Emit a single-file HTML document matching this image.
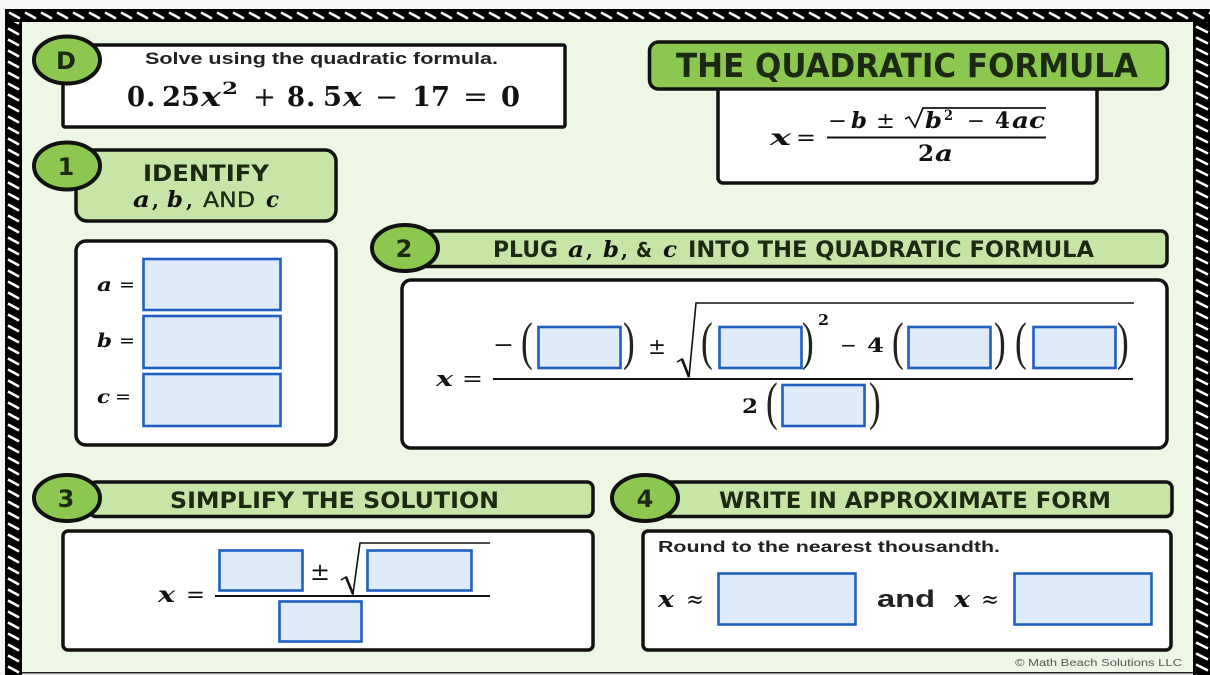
<!DOCTYPE html>
<html><head><meta charset="utf-8">
<style>
html,body{margin:0;padding:0;background:#f6f6f6;width:1210px;height:675px;overflow:hidden}
svg{display:block}
text{white-space:pre}
.s{font-family:"Liberation Sans",sans-serif;font-weight:bold;fill:#222}
.h{font-family:"DejaVu Sans","Liberation Sans",sans-serif;font-weight:bold;fill:#1c2a14}
.m{font-family:"DejaVu Serif","Liberation Serif",serif;font-weight:bold;fill:#111}
.i{font-style:italic}
.o{font-family:"DejaVu Serif","Liberation Serif",serif;font-weight:normal;fill:#111}
.p{font-family:"Liberation Serif",serif;fill:#222}
.box{fill:#fff;stroke:#111;stroke-width:3.5}
.hd{fill:#c6e5a6;stroke:#111;stroke-width:3.5}
.ci{fill:#8cc850;stroke:#111;stroke-width:4}
.in{fill:#dfeafa;stroke:#1f5fc0;stroke-width:2.6}
.ln{stroke:#111;stroke-width:2;fill:none}
</style></head><body>
<svg width="1210" height="675" viewBox="0 0 1210 675" xmlns="http://www.w3.org/2000/svg">
<defs>
<pattern id="pt" width="16" height="13" patternUnits="userSpaceOnUse" x="8" y="9">
<rect width="16" height="13" fill="#000"/>
<path d="M1 3.5L12 9.5" stroke="#fff" stroke-width="2.6"/>
</pattern>
<pattern id="pl" width="17" height="11" patternUnits="userSpaceOnUse" x="5" y="4">
<rect width="17" height="11" fill="#000"/>
<path d="M3 2.5L14 8.5" stroke="#fff" stroke-width="2.6"/>
</pattern>
<pattern id="pr" width="17" height="11" patternUnits="userSpaceOnUse" x="1193" y="2">
<rect width="17" height="11" fill="#000"/>
<path d="M3 2.5L15 8.5" stroke="#fff" stroke-width="2.6"/>
</pattern>
</defs>
<rect x="0" y="673" width="1210" height="2" fill="#f0f0f0"/>
<rect x="5" y="9" width="1205" height="13" fill="url(#pt)"/>
<rect x="5" y="22" width="17" height="653" fill="url(#pl)"/>
<rect x="1193" y="22" width="17" height="653" fill="url(#pr)"/>
<rect x="22" y="22" width="1171" height="650" fill="#eef6e6"/>
<rect x="22" y="672" width="1171" height="1.5" fill="#222"/>

<!-- D -->
<rect class="box" x="63" y="45" width="502" height="82" rx="2"/>
<ellipse class="ci" cx="67" cy="60" rx="33" ry="23.5"/>
<text class="h" x="66" y="69" font-size="24" text-anchor="middle">D</text>
<text class="s" x="145" y="64" font-size="16.5" textLength="353" lengthAdjust="spacingAndGlyphs">Solve using the quadratic formula.</text>
<g font-size="27">
<text class="m" x="127" y="106" textLength="18" lengthAdjust="spacingAndGlyphs">0</text>
<text class="m" x="146" y="106">.</text>
<text class="m" x="162" y="106" textLength="38" lengthAdjust="spacingAndGlyphs">25</text>
<text class="m i" x="201" y="106" textLength="20" lengthAdjust="spacingAndGlyphs">x</text>
<text class="m" x="222" y="94" font-size="17" textLength="16" lengthAdjust="spacingAndGlyphs">2</text>
<text class="o" x="253" y="106" textLength="23" lengthAdjust="spacingAndGlyphs">+</text>
<text class="m" x="287" y="106" textLength="18" lengthAdjust="spacingAndGlyphs">8</text>
<text class="m" x="306" y="106">.</text>
<text class="m" x="323" y="106" textLength="19" lengthAdjust="spacingAndGlyphs">5</text>
<text class="m i" x="343" y="106" textLength="19" lengthAdjust="spacingAndGlyphs">x</text>
<text class="o" x="375" y="106" textLength="23" lengthAdjust="spacingAndGlyphs">−</text>
<text class="m" x="412" y="106" textLength="38" lengthAdjust="spacingAndGlyphs">17</text>
<text class="o" x="463" y="106" textLength="25" lengthAdjust="spacingAndGlyphs">=</text>
<text class="m" x="501" y="106" textLength="19" lengthAdjust="spacingAndGlyphs">0</text>
</g>

<!-- Title -->
<rect class="box" x="718" y="85" width="379" height="98" rx="5"/>
<rect x="649.5" y="42" width="518" height="47" rx="9" fill="#8cc850" stroke="#111" stroke-width="3.5"/>
<text class="h" x="676" y="77" font-size="33" textLength="462" lengthAdjust="spacingAndGlyphs" fill="#111">THE QUADRATIC FORMULA</text>
<g font-size="22">
<text class="m i" x="770" y="145" textLength="21" lengthAdjust="spacingAndGlyphs">x</text>
<text class="o" x="796" y="145" textLength="20" lengthAdjust="spacingAndGlyphs">=</text>
<line class="ln" x1="827" y1="137.5" x2="1046" y2="137.5"/>
<text class="o" x="828" y="128" textLength="19" lengthAdjust="spacingAndGlyphs">−</text>
<text class="m i" x="851" y="128" textLength="16" lengthAdjust="spacingAndGlyphs">b</text>
<text class="o" x="876" y="128" textLength="19" lengthAdjust="spacingAndGlyphs">±</text>
<path class="ln" d="M905 119L909 117L915 127L923 108H1046" style="stroke-width:1.7"/>
<text class="m i" x="925" y="128" textLength="17" lengthAdjust="spacingAndGlyphs">b</text>
<text class="m" x="944" y="120" font-size="14" textLength="9" lengthAdjust="spacingAndGlyphs">2</text>
<text class="o" x="967" y="128" textLength="18" lengthAdjust="spacingAndGlyphs">−</text>
<text class="m" x="995" y="128" textLength="15" lengthAdjust="spacingAndGlyphs">4</text>
<text class="m i" x="1012" y="128" textLength="33" lengthAdjust="spacingAndGlyphs">ac</text>
<text class="m" x="918" y="161" textLength="16" lengthAdjust="spacingAndGlyphs">2</text>
<text class="m i" x="935" y="161" textLength="18" lengthAdjust="spacingAndGlyphs">a</text>
</g>

<!-- 1 -->
<rect class="hd" x="76" y="150" width="260" height="71" rx="11"/>
<ellipse class="ci" cx="67" cy="166" rx="33" ry="23.5"/>
<text class="h" x="66" y="175" font-size="24" text-anchor="middle">1</text>
<text class="h" x="143" y="181" font-size="22" textLength="126" lengthAdjust="spacingAndGlyphs">IDENTIFY</text>
<text class="m i" x="133" y="207" font-size="22" textLength="17" lengthAdjust="spacingAndGlyphs">a</text>
<text class="m" x="152" y="207" font-size="20">,</text>
<text class="m i" x="167" y="207" font-size="22" textLength="16" lengthAdjust="spacingAndGlyphs">b</text>
<text class="m" x="186" y="207" font-size="20">,</text>
<text class="h" x="203" y="207" font-size="21" textLength="52" lengthAdjust="spacingAndGlyphs" style="font-weight:normal" stroke="#1c2a14" stroke-width=".3">AND</text>
<text class="m i" x="266" y="207" font-size="22" textLength="13" lengthAdjust="spacingAndGlyphs">c</text>

<!-- abc -->
<rect class="box" x="76" y="241" width="260" height="204" rx="10"/>
<rect class="in" x="143.5" y="259" width="137" height="51"/>
<rect class="in" x="143.5" y="316" width="137" height="52"/>
<rect class="in" x="143.5" y="374" width="137" height="52"/>
<g font-size="19">
<text class="m i" x="97" y="291" textLength="15" lengthAdjust="spacingAndGlyphs">a</text><text class="o" x="119" y="291" textLength="16" lengthAdjust="spacingAndGlyphs">=</text>
<text class="m i" x="97" y="347" textLength="15" lengthAdjust="spacingAndGlyphs">b</text><text class="o" x="119" y="347" textLength="16" lengthAdjust="spacingAndGlyphs">=</text>
<text class="m i" x="97" y="403" textLength="13" lengthAdjust="spacingAndGlyphs">c</text><text class="o" x="115" y="403" textLength="16" lengthAdjust="spacingAndGlyphs">=</text>
</g>

<!-- 2 -->
<rect class="hd" x="420" y="231" width="747" height="35.5" rx="6"/>
<ellipse class="ci" cx="405" cy="248" rx="33" ry="23"/>
<text class="h" x="404" y="257" font-size="24" text-anchor="middle">2</text>
<text class="h" x="493" y="257" font-size="22" textLength="65" lengthAdjust="spacingAndGlyphs">PLUG</text>
<text class="m i" x="568" y="257" font-size="22" textLength="16" lengthAdjust="spacingAndGlyphs">a</text>
<text class="m" x="586" y="257" font-size="20">,</text>
<text class="m i" x="603" y="257" font-size="22" textLength="16" lengthAdjust="spacingAndGlyphs">b</text>
<text class="m" x="621" y="257" font-size="20">,</text>
<text class="h" x="636" y="257" font-size="20" textLength="16" lengthAdjust="spacingAndGlyphs">&amp;</text>
<text class="m i" x="663" y="257" font-size="22" textLength="14" lengthAdjust="spacingAndGlyphs">c</text>
<text class="h" x="688" y="257" font-size="22" textLength="406" lengthAdjust="spacingAndGlyphs">INTO THE QUADRATIC FORMULA</text>
<rect class="box" x="402" y="280" width="765" height="168" rx="9"/>
<text class="m i" x="436" y="386" font-size="21" textLength="17" lengthAdjust="spacingAndGlyphs">x</text>
<text class="o" x="462" y="386" font-size="21" textLength="21" lengthAdjust="spacingAndGlyphs">=</text>
<line class="ln" x1="493" y1="379" x2="1133" y2="379"/>
<path class="ln" d="M677 362L682 359L689 377L696 303H1134" style="stroke-width:1.6"/>
<path class="ln" d="M682 359L689 377" style="stroke-width:2.6"/>
<rect class="in" x="538.5" y="327" width="82" height="41"/>
<rect class="in" x="719.5" y="327" width="82" height="41"/>
<rect class="in" x="908.5" y="327" width="82" height="41"/>
<rect class="in" x="1033.5" y="327" width="82" height="41"/>
<rect class="in" x="782.5" y="385" width="82" height="41"/>
<text class="o" x="493" y="352" font-size="22" textLength="21" lengthAdjust="spacingAndGlyphs">−</text>
<text class="p" font-size="32" transform="translate(521 359) scale(1.1 1.65)">(</text>
<text class="p" font-size="32" transform="translate(623 359) scale(1.1 1.65)">)</text>
<text class="o" x="648" y="354" font-size="22" textLength="18" lengthAdjust="spacingAndGlyphs">±</text>
<text class="p" font-size="32" transform="translate(701 359) scale(1.1 1.65)">(</text>
<text class="p" font-size="32" transform="translate(802 359) scale(1.1 1.65)">)</text>
<text class="m" x="818" y="325" font-size="15" textLength="11" lengthAdjust="spacingAndGlyphs">2</text>
<text class="o" x="840" y="352" font-size="20" textLength="17" lengthAdjust="spacingAndGlyphs">−</text>
<text class="m" x="867" y="352" font-size="20" textLength="17" lengthAdjust="spacingAndGlyphs">4</text>
<text class="p" font-size="32" transform="translate(892 359) scale(1.1 1.65)">(</text>
<text class="p" font-size="32" transform="translate(994 359) scale(1.1 1.65)">)</text>
<text class="p" font-size="32" transform="translate(1015 359) scale(1.1 1.65)">(</text>
<text class="p" font-size="32" transform="translate(1117 359) scale(1.1 1.65)">)</text>
<text class="m" x="742" y="413" font-size="20" textLength="16" lengthAdjust="spacingAndGlyphs">2</text>
<text class="p" font-size="32" transform="translate(766 419) scale(1.1 1.65)">(</text>
<text class="p" font-size="32" transform="translate(869 419) scale(1.1 1.65)">)</text>

<!-- 3 -->
<rect class="hd" x="90" y="482" width="503" height="34.5" rx="6"/>
<ellipse class="ci" cx="67" cy="498" rx="33" ry="23"/>
<text class="h" x="66" y="507" font-size="24" text-anchor="middle">3</text>
<text class="h" x="170" y="508" font-size="22" textLength="329" lengthAdjust="spacingAndGlyphs">SIMPLIFY THE SOLUTION</text>
<rect class="box" x="63" y="531" width="530" height="119" rx="5"/>
<text class="m i" x="158" y="602" font-size="22" textLength="17" lengthAdjust="spacingAndGlyphs">x</text>
<text class="o" x="186" y="602" font-size="22" textLength="19" lengthAdjust="spacingAndGlyphs">=</text>
<line class="ln" x1="215" y1="596" x2="490" y2="596"/>
<path class="ln" d="M341 580L346 577L353 594L360 543H490" style="stroke-width:1.6"/>
<path class="ln" d="M346 577L353 594" style="stroke-width:2.6"/>
<rect class="in" x="219.5" y="550.5" width="83" height="40"/>
<rect class="in" x="367.5" y="550.5" width="104" height="40"/>
<rect class="in" x="279.5" y="601.5" width="82" height="40"/>
<text class="o" x="310" y="580" font-size="24" textLength="20" lengthAdjust="spacingAndGlyphs">±</text>

<!-- 4 -->
<rect class="hd" x="660" y="482" width="512" height="34.5" rx="6"/>
<ellipse class="ci" cx="645" cy="498" rx="33" ry="23"/>
<text class="h" x="645" y="507" font-size="24" text-anchor="middle">4</text>
<text class="h" x="719" y="508" font-size="22" textLength="392" lengthAdjust="spacingAndGlyphs">WRITE IN APPROXIMATE FORM</text>
<rect class="box" x="643" y="531" width="528" height="119" rx="5"/>
<text class="s" x="658" y="552" font-size="16" textLength="342" lengthAdjust="spacingAndGlyphs">Round to the nearest thousandth.</text>
<rect class="in" x="718.5" y="573.5" width="137" height="51"/>
<rect class="in" x="1014.5" y="573.5" width="137" height="51"/>
<text class="m i" x="658" y="607" font-size="23" textLength="16" lengthAdjust="spacingAndGlyphs">x</text>
<text class="o" x="686" y="607" font-size="23" textLength="18" lengthAdjust="spacingAndGlyphs">≈</text>
<text class="s" x="877" y="607" font-size="24" textLength="58" lengthAdjust="spacingAndGlyphs">and</text>
<text class="m i" x="954" y="607" font-size="23" textLength="16" lengthAdjust="spacingAndGlyphs">x</text>
<text class="o" x="981" y="607" font-size="23" textLength="18" lengthAdjust="spacingAndGlyphs">≈</text>
<text x="1015" y="666" font-family="Liberation Sans,sans-serif" font-size="10.5" fill="#555" textLength="167" lengthAdjust="spacingAndGlyphs">© Math Beach Solutions LLC</text>
</svg>
</body></html>
